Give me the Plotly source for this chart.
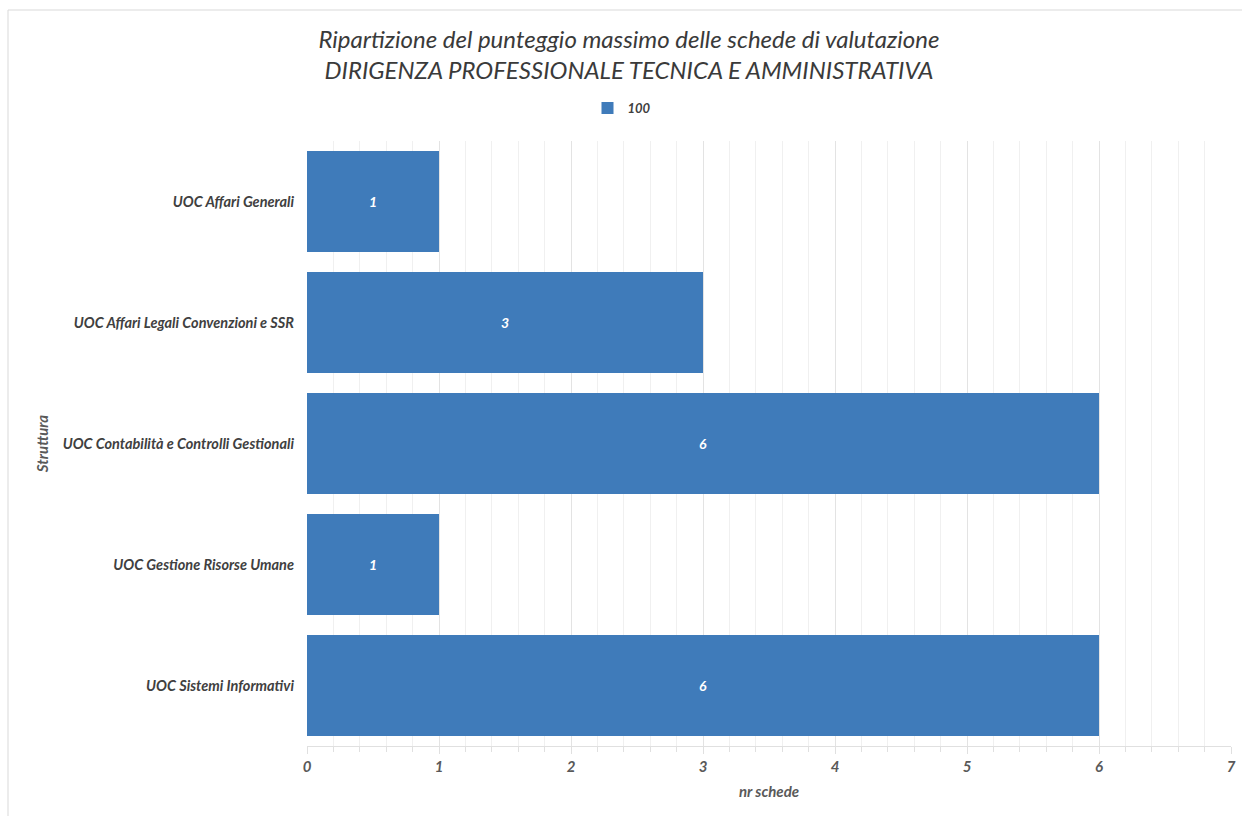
import plotly.graph_objects as go

categories = ["UOC Affari Generali", "UOC Affari Legali Convenzioni e SSR",
              "UOC Contabilità e Controlli Gestionali", "UOC Gestione Risorse Umane",
              "UOC Sistemi Informativi"]
values = [1, 3, 6, 1, 6]
series_name = "100"
x_ticks = [0, 1, 2, 3, 4, 5, 6, 7]

# body margin removed via post_script -> figure coordinates = page coordinates
W, H = 1242, 816
L, R, T, B = 307, 11, 141, 70
pw, ph = W - L - R, H - T - B

fnt = "Lato, 'Open Sans', sans-serif"
txt_dark = "#404040"
txt_grey = "#595959"

fig = go.Figure()
fig.add_trace(go.Bar(
    y=categories, x=values, orientation="h", name=series_name,
    marker=dict(color="#3F7BBA", line=dict(width=0)),
    text=[str(v) for v in values], textposition="inside", insidetextanchor="middle",
    textfont=dict(color="white", size=14, family=fnt, style="italic", weight="bold"),
    showlegend=True,
))

fig.update_layout(
    width=W, height=H,
    margin=dict(l=L, r=R, t=T, b=B, autoexpand=False),
    paper_bgcolor="white", plot_bgcolor="white",
    bargap=0.165,
    title=dict(
        text="Ripartizione del punteggio massimo delle schede di valutazione<br>DIRIGENZA PROFESSIONALE TECNICA E AMMINISTRATIVA",
        x=629 / W, xref="container", xanchor="center",
        y=1 - 48 / H, yref="container", yanchor="middle",
        font=dict(family=fnt, size=24, color="#3A3A3A", style="italic"),
    ),
    legend=dict(orientation="h", x=(622 - L) / pw, xanchor="center", y=1 + (T - 108) / ph, yanchor="middle",
                font=dict(family=fnt, size=13, color=txt_dark, style="italic", weight="bold"),
                itemwidth=30),
    xaxis=dict(
        range=[0, 7], tickvals=x_ticks, showgrid=True, gridcolor="#E3E3E3", gridwidth=1,
        minor=dict(dtick=0.2, showgrid=True, gridcolor="#F0F0F0", ticks="outside",
                   ticklen=5, tickcolor="#E0E0E0"),
        ticks="outside", ticklen=7, tickcolor="#E0E0E0",
        showline=True, linecolor="#E0E0E0", zeroline=False,
        ticklabeloverflow="allow", automargin=False,
        tickfont=dict(family=fnt, size=15, color=txt_grey, style="italic", weight="bold"),
        title=dict(text="nr schede", standoff=12,
                   font=dict(family=fnt, size=15, color=txt_grey, style="italic", weight="bold")),
    ),
    yaxis=dict(
        autorange="reversed", showgrid=False, ticks="", ticklabelstandoff=12, automargin=False,
        tickfont=dict(family=fnt, size=14.5, color=txt_dark, style="italic", weight="bold"),
        title=dict(text="Struttura", standoff=10,
                   font=dict(family=fnt, size=15, color=txt_grey, style="italic", weight="bold")),
    ),
    shapes=[dict(type="rect", xref="paper", yref="paper",
                 x0=(8 - L) / pw, x1=(W + 20 - L) / pw,
                 y0=(H - T - (H + 20)) / ph, y1=(H - B - 10) / ph,
                 line=dict(color="#D9D9D9", width=1), fillcolor="rgba(0,0,0,0)", layer="below")],
)

fig.write_html("out.html", config={"displayModeBar": False},
               post_script="document.body.style.margin='0';document.body.style.overflow='hidden';")
